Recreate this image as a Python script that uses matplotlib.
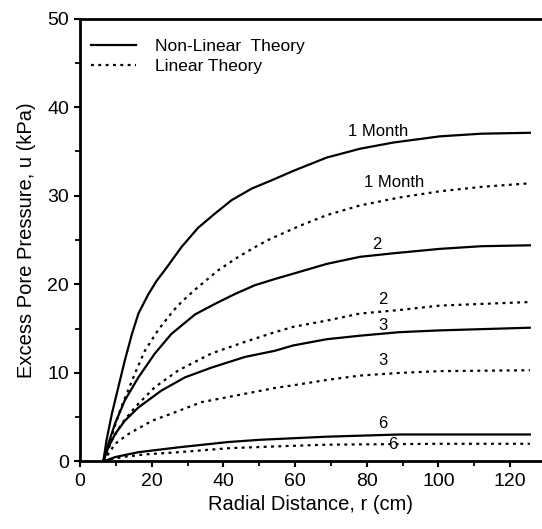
import matplotlib.pyplot as plt
from matplotlib.ticker import MultipleLocator

plt.rcParams['font.family'] = ['Liberation Sans', 'DejaVu Sans']

# Non-linear theory curves (r in cm, u in kPa)
r_nl_1 = [6.5, 7.4, 8.9, 10.7, 12.5, 14.5, 16.3, 19.1, 21.4, 24.2, 28.3, 33.0, 37.7, 42.3,
          47.9, 54.4, 59.5, 68.8, 78.1, 87.4, 100.4, 112.0, 125.5]
u_nl_1 = [0.0, 2.4, 5.4, 8.4, 11.4, 14.4, 16.7, 18.9, 20.4, 21.9, 24.2, 26.4, 28.0, 29.5,
          30.8, 31.9, 32.8, 34.3, 35.3, 36.0, 36.7, 37.0, 37.1]
r_nl_2 = [6.5, 7.9, 9.8, 12.5, 16.3, 20.9, 25.5, 32.1, 37.7, 43.2, 48.8, 54.4, 59.5, 68.8,
          78.1, 87.4, 100.4, 112.0, 125.5]
u_nl_2 = [0.0, 2.0, 4.3, 6.9, 9.5, 12.2, 14.4, 16.6, 17.8, 18.9, 19.9, 20.6, 21.2, 22.3,
          23.1, 23.5, 24.0, 24.3, 24.4]
r_nl_3 = [6.5, 7.9, 9.8, 12.5, 16.3, 22.7, 29.3, 36.7, 46.0, 54.4, 59.5, 68.8, 78.1, 89.2,
          100.4, 125.5]
u_nl_3 = [0.0, 1.6, 3.1, 4.6, 6.1, 8.0, 9.5, 10.6, 11.8, 12.5, 13.1, 13.8, 14.2, 14.6,
          14.8, 15.1]
r_nl_6 = [6.5, 9.8, 16.3, 27.5, 41.4, 50.2, 68.8, 89.2, 125.5]
u_nl_6 = [0.0, 0.5, 1.05, 1.6, 2.2, 2.45, 2.8, 3.05, 3.05]

# Linear theory curves
r_li_1 = [6.5, 8.4, 9.3, 11.2, 13.0, 15.3, 18.1, 21.9, 26.0, 28.3, 32.1, 38.6, 44.2, 49.7,
          53.0, 61.3, 68.8, 78.1, 89.2, 100.4, 112.0, 125.5]
u_li_1 = [0.0, 2.0, 3.5, 5.8, 7.6, 9.9, 12.5, 14.9, 17.0, 18.0, 19.4, 21.6, 23.1, 24.4,
          25.1, 26.6, 27.8, 28.9, 29.8, 30.5, 31.0, 31.4]
r_li_2 = [6.5, 8.9, 11.7, 15.3, 20.9, 27.5, 36.7, 46.0, 54.4, 59.5, 68.8, 78.1, 89.2, 100.4,
          125.5]
u_li_2 = [0.0, 2.4, 4.3, 6.1, 8.4, 10.3, 12.2, 13.5, 14.6, 15.2, 15.9, 16.7, 17.1, 17.6,
          18.0]
r_li_3 = [6.5, 9.8, 13.5, 20.1, 25.5, 33.9, 44.2, 54.4, 59.5, 68.8, 78.1, 89.2, 100.4, 125.5]
u_li_3 = [0.0, 2.0, 3.1, 4.6, 5.4, 6.7, 7.5, 8.3, 8.6, 9.2, 9.7, 10.0, 10.2, 10.3]
r_li_6 = [6.5, 11.7, 18.1, 27.5, 41.4, 54.4, 68.8, 100.4, 125.5]
u_li_6 = [0.0, 0.5, 0.8, 1.05, 1.5, 1.7, 1.9, 2.0, 2.0]

# curve labels: text, r, u
labels = [("1 Month", 83.2, 37.2), ("1 Month", 87.6, 31.5), ("2", 82.8, 24.5),
          ("2", 84.6, 18.3), ("3", 84.6, 15.3), ("3", 84.6, 11.4),
          ("6", 84.6, 4.25), ("6", 87.2, 1.9)]

fig = plt.figure(figsize=(5.42, 5.29), dpi=100)
ax = fig.add_axes([0.1476, 0.1276, 0.8524, 0.8374])

dot = (0, (1.3, 2.0))
lw = 1.6
ax.plot(r_nl_1, u_nl_1, 'k-', lw=lw, label="Non-Linear  Theory")
ax.plot(r_li_1, u_li_1, 'k', ls=dot, lw=lw, label="Linear Theory")
for r, u in [(r_nl_2, u_nl_2), (r_nl_3, u_nl_3), (r_nl_6, u_nl_6)]:
    ax.plot(r, u, 'k-', lw=lw)
for r, u in [(r_li_2, u_li_2), (r_li_3, u_li_3), (r_li_6, u_li_6)]:
    ax.plot(r, u, 'k', ls=dot, lw=lw)

for txt, r, u in labels:
    ax.text(r, u, txt, fontsize=12, ha='center', va='center')

ax.set_xlim(0, 128.9)
ax.set_ylim(0, 50)
ax.xaxis.set_minor_locator(MultipleLocator(10))
ax.yaxis.set_major_locator(MultipleLocator(10))
ax.yaxis.set_minor_locator(MultipleLocator(5))
ax.set_xticks(range(0, 121, 20))

ax.spines['right'].set_visible(False)
for s in ['left', 'bottom', 'top']:
    ax.spines[s].set_linewidth(2.0)
ax.tick_params(which='major', length=4.5, width=1.5, labelsize=14, direction='out')
ax.tick_params(which='minor', length=3.5, width=1.3, direction='out')
ax.tick_params(top=False, right=False, which='both')

ax.set_xlabel("Radial Distance, r (cm)", fontsize=14.5)
ax.set_ylabel("Excess Pore Pressure, u (kPa)", fontsize=14.5, labelpad=8)

ax.legend(loc='upper left', frameon=False, fontsize=12.5, handlelength=2.6,
          handletextpad=1.1, bbox_to_anchor=(-0.01, 0.99), labelspacing=0.3)

plt.savefig("out.png", dpi=100)
